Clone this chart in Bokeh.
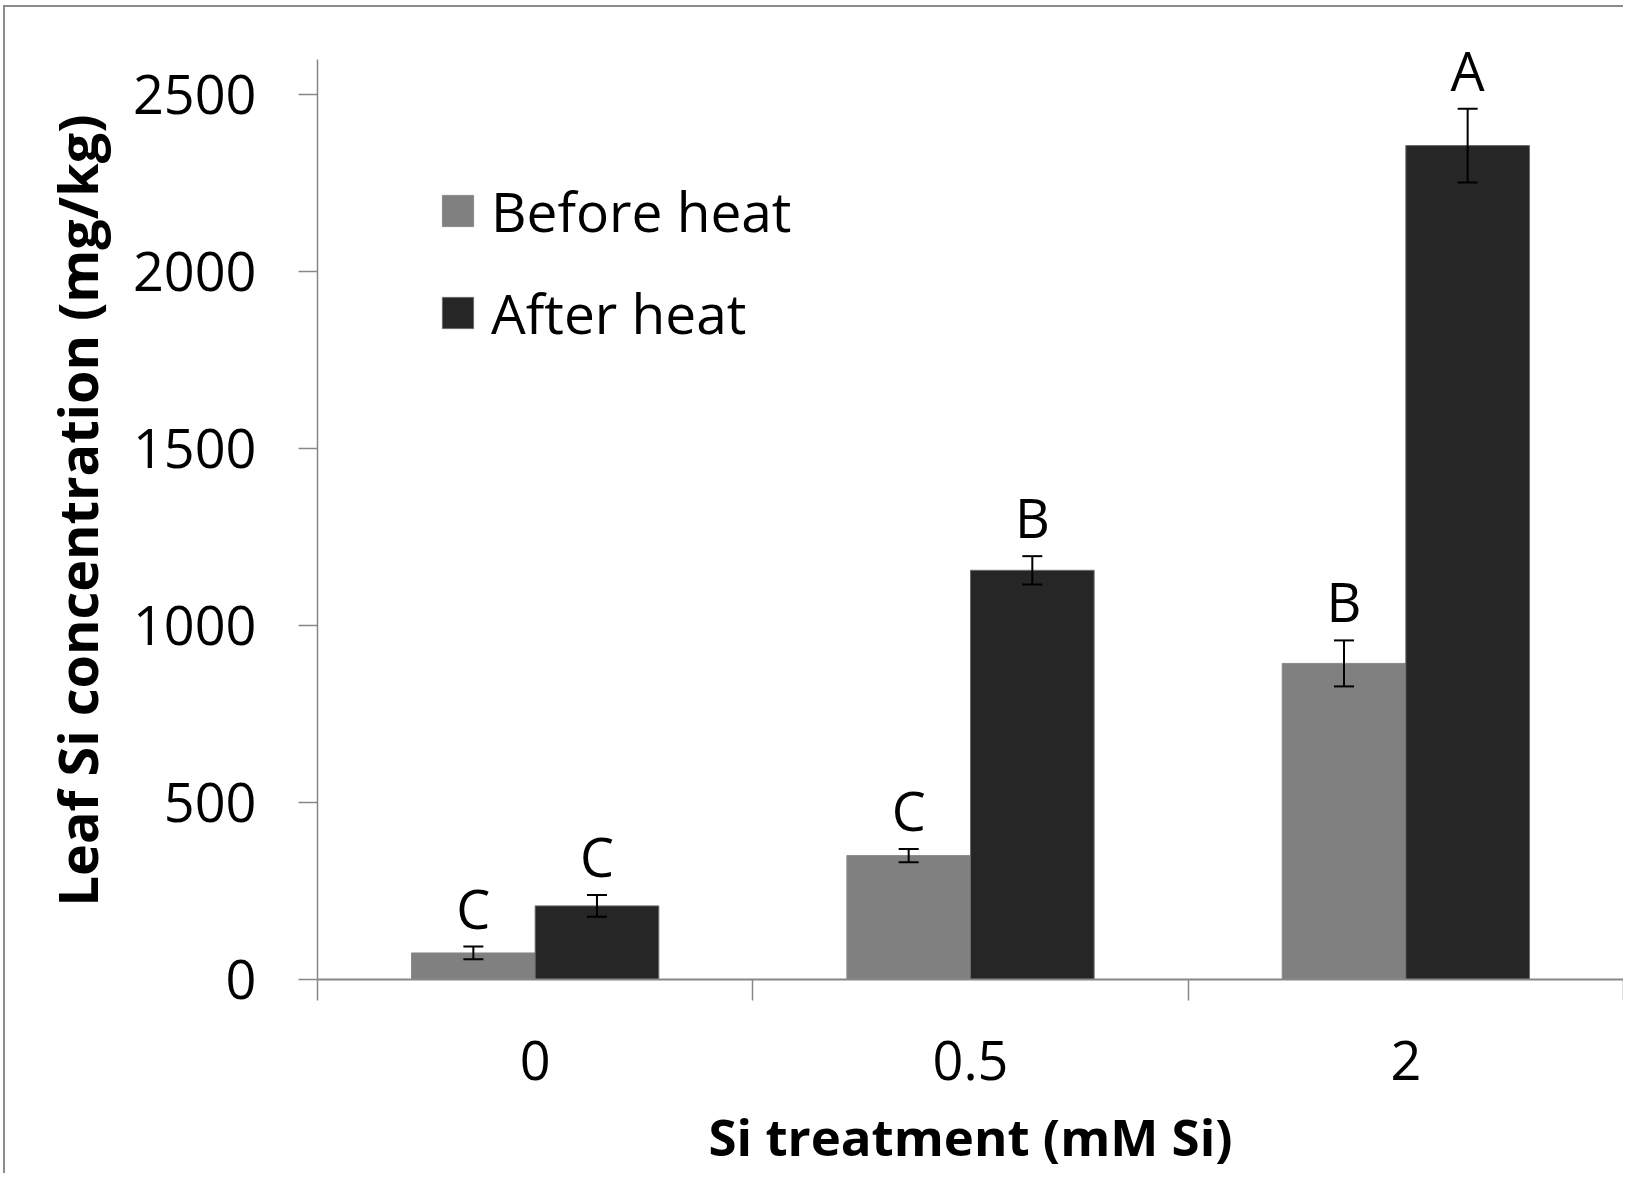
from bokeh.plotting import figure
from bokeh.models import (ColumnDataSource, Whisker, TeeHead, LabelSet, Legend,
                          LegendItem, FixedTicker, Range1d)
from bokeh.core.properties import value
from bokeh.transform import dodge
from bokeh.embed import file_html
from bokeh.resources import INLINE

# ---- data ----
categories = ["0", "0.5", "2"]
series = ["Before heat", "After heat"]
before = [75, 350, 893]
after = [208, 1156, 2356]
before_err = [18, 19, 65]
after_err = [31, 40, 104]
before_letters = ["C", "C", "B"]
after_letters = ["C", "B", "A"]
y_ticks = [0, 500, 1000, 1500, 2000, 2500]

FONT = "Open Sans"
AXIS_GRAY = "#878787"
BW = 0.284

pos = [i + 0.5 for i in range(len(categories))]
src = ColumnDataSource(dict(
    x=pos,
    before=before, after=after,
    b_up=[v + e for v, e in zip(before, before_err)],
    b_lo=[v - e for v, e in zip(before, before_err)],
    a_up=[v + e for v, e in zip(after, after_err)],
    a_lo=[v - e for v, e in zip(after, after_err)],
    b_let=before_letters, a_let=after_letters,
))

p = figure(width=1623, height=1173, output_backend="svg", toolbar_location=None,
           x_range=Range1d(0, len(categories)), y_range=Range1d(0, 2650),
           min_border_left=317, min_border_right=0, min_border_top=41,
           min_border_bottom=185)
p.outline_line_color = None
p.grid.visible = False
p.background_fill_color = "white"
p.border_fill_alpha = 0
# chart-area border (top and left edges, as in the source picture)
p.styles = {"background": "linear-gradient(#8c8c8c,#8c8c8c) 4px 5px / 1619px 2px no-repeat, "
                          "linear-gradient(#8c8c8c,#8c8c8c) 3px 5px / 2px 1168px no-repeat, white"}

r1 = p.vbar(x=dodge("x", -BW / 2, range=p.x_range), top="before", width=BW,
            source=src, fill_color="#808080", line_color="#8a8a8a", line_width=1)
r2 = p.vbar(x=dodge("x", BW / 2, range=p.x_range), top="after", width=BW,
            source=src, fill_color="#262626", line_color="#6a6a6a", line_width=1)

for off, up, lo in [(-BW / 2, "b_up", "b_lo"), (BW / 2, "a_up", "a_lo")]:
    w = Whisker(base=dodge("x", off, range=p.x_range), upper=up, lower=lo,
                source=src, dimension="height", line_color="black", line_width=2,
                level="overlay",
                upper_head=TeeHead(size=20, line_width=2, line_color="black"),
                lower_head=TeeHead(size=20, line_width=2, line_color="black"))
    p.add_layout(w)

for off, up, let in [(-BW / 2, "b_up", "b_let"), (BW / 2, "a_up", "a_let")]:
    ls = LabelSet(x=dodge("x", off, range=p.x_range), y=up, text=let, source=src,
                  text_align="center", text_baseline="alphabetic", y_offset=18,
                  text_font=value(FONT), text_font_size=value("54px"),
                  text_color="black")
    p.add_layout(ls)

# y axis
ya = p.yaxis[0]
ya.ticker = FixedTicker(ticks=y_ticks)
ya.bounds = (0, 2600)
ya.axis_line_color = AXIS_GRAY
ya.axis_line_width = 1.5
ya.major_tick_line_color = AXIS_GRAY
ya.major_tick_line_width = 1.5
ya.major_tick_out = 19
ya.major_tick_in = 0
ya.minor_tick_line_color = None
ya.major_label_standoff = 42
ya.major_label_text_font = FONT
ya.major_label_text_font_size = "54px"
ya.major_label_text_color = "black"
ya.axis_label = "Leaf Si concentration (mg/kg)"
ya.axis_label_text_font = FONT
ya.axis_label_text_font_style = "bold"
ya.axis_label_text_font_size = "54px"
ya.axis_label_text_color = "black"
ya.axis_label_standoff = 16

# x axis
xa = p.xaxis[0]
xa.ticker = FixedTicker(ticks=pos, minor_ticks=list(range(len(categories) + 1)))
xa.major_label_overrides = {x: c for x, c in zip(pos, categories)}
xa.axis_line_color = AXIS_GRAY
xa.axis_line_width = 2
xa.major_tick_line_color = None
xa.major_tick_out = 0
xa.major_tick_in = 0
xa.minor_tick_line_color = AXIS_GRAY
xa.minor_tick_line_width = 1.5
xa.minor_tick_out = 21
xa.minor_tick_in = 0
xa.major_label_standoff = 40
xa.major_label_text_font = FONT
xa.major_label_text_font_size = "54px"
xa.major_label_text_color = "black"
xa.axis_label = "Si treatment (mM Si)"
xa.axis_label_text_font = FONT
xa.axis_label_text_font_style = "bold"
xa.axis_label_text_font_size = "51px"
xa.axis_label_text_color = "black"
xa.axis_label_standoff = 18

legend = Legend(items=[LegendItem(label=series[0], renderers=[r1]),
                       LegendItem(label=series[1], renderers=[r2])],
                location=(121, 629), glyph_width=39, glyph_height=39,
                label_text_font=FONT, label_text_font_size="55px",
                label_text_color="black",
                label_standoff=14, spacing=27, padding=0, margin=0,
                background_fill_alpha=0, border_line_color=None)
p.add_layout(legend)

open("out.html", "w").write(file_html(p, INLINE))
